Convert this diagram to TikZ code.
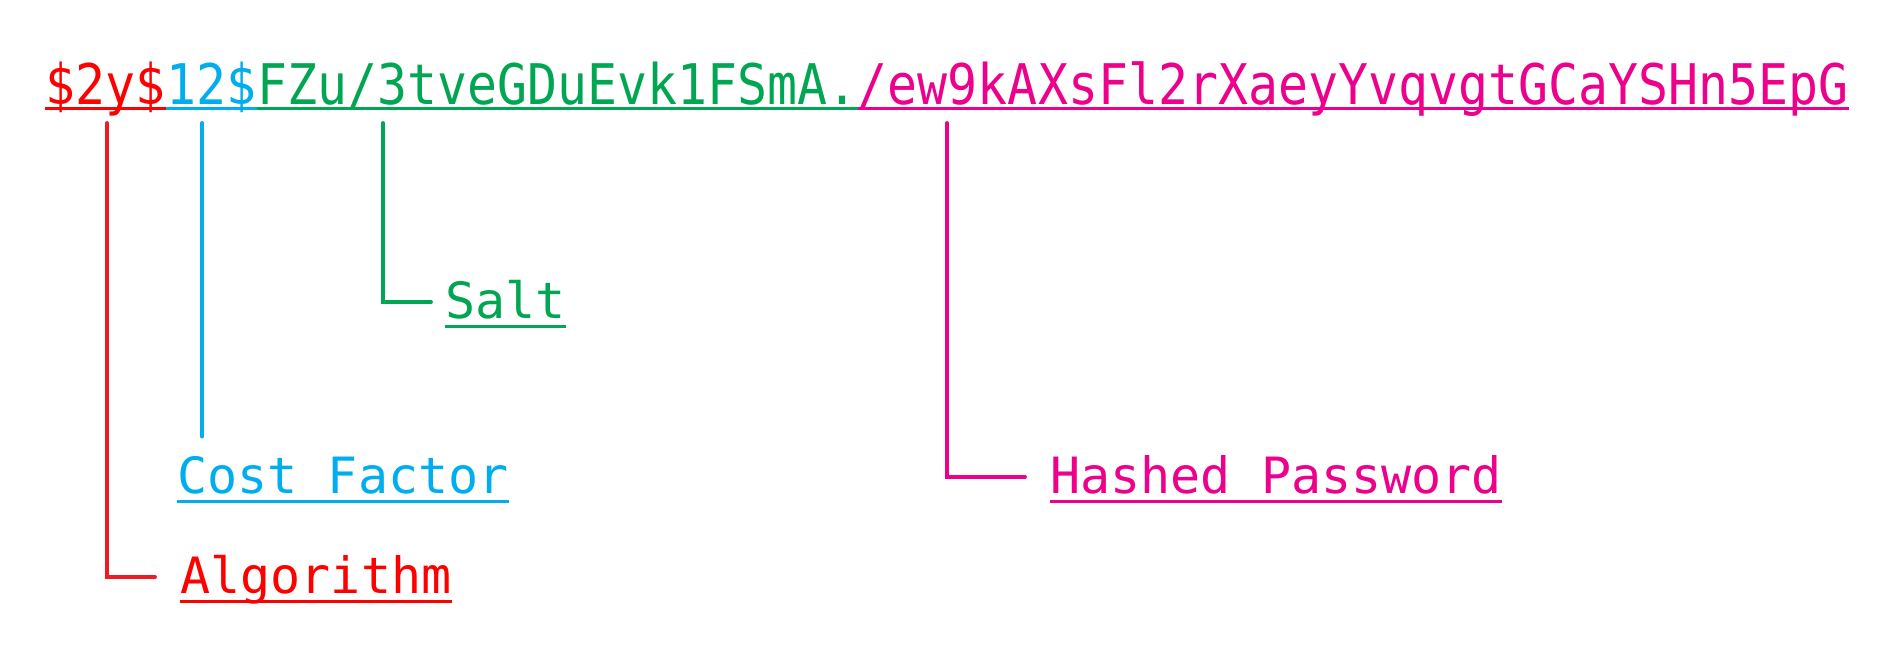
\documentclass[tikz,border=0pt]{standalone}
\usepackage{fontspec}
\usepackage{xcolor}
\usepackage{tikz}
\usetikzlibrary{positioning}
\newfontfamily\hashfont{DejaVu Sans Mono}[FakeStretch=0.89]
\newfontfamily\labelfont{DejaVu Sans Mono}
\definecolor{algred}{HTML}{FF0000}
\definecolor{algline}{HTML}{ED1C24}
\definecolor{costblue}{HTML}{00AEEF}
\definecolor{saltgreen}{HTML}{00A651}
\definecolor{hashpink}{HTML}{EC008C}

\begin{document}
\begin{tikzpicture}[
    x=0.5pt, y=-0.5pt,
    part/.style={inner sep=0pt, anchor=base west, text depth=1.75pt, font=\hashfont\fontsize{28pt}{28pt}\selectfont},
    tag/.style={inner sep=0pt, anchor=base west, text height=20pt, text depth=4pt, font=\labelfont\fontsize{25pt}{25pt}\selectfont},
    uline/.style={line width=1.4pt},
    lead/.style={line width=1.9pt, line cap=round}
]
    \useasboundingbox (0,0) rectangle (1884,654);
    % the hash string
    \node[part, text=algred] (alg) at (45,104.5) {\$2y\$};
    \node[part, text=costblue] (cost) at (alg.base east) {12\$};
    \node[part, text=saltgreen] (salt) at (cost.base east) {FZu/3tveGDuEvk1FSmA.};
    \node[part, text=hashpink] (hash) at (salt.base east) {/ew9kAXsFl2rXaeyYvqvgtGCaYSHn5EpG};
    \draw[uline, algred] (alg.south west) -- (alg.south east);
    \draw[uline, costblue] (cost.south west) -- (cost.south east);
    \draw[uline, saltgreen] (salt.south west) -- (salt.south east);
    \draw[uline, hashpink] (hash.south west) -- (hash.south east);
    % labels
    \node[tag, text=saltgreen] (saltlab) at (445,318) {Salt};
    \node[tag, text=costblue] (costlab) at (177,493) {Cost Factor};
    \node[tag, text=hashpink] (hashlab) at (1050,493) {Hashed Password};
    \node[tag, text=algred] (alglab) at (180,593) {Algorithm};
    \draw[uline, saltgreen] (saltlab.south west) -- (saltlab.south east);
    \draw[uline, costblue] (costlab.south west) -- (costlab.south east);
    \draw[uline, hashpink] (hashlab.south west) -- (hashlab.south east);
    \draw[uline, algred] (alglab.south west) -- (alglab.south east);
    % leaders
    \coordinate (algtop) at (107,123);
    \coordinate (costtop) at (202,123);
    \coordinate (salttop) at (383,123);
    \coordinate (hashtop) at (947,123);
    \draw[lead, algline] (algtop) |- ([xshift=-12.5pt]alglab.west);
    \draw[lead, costblue] (costtop) -- ([yshift=8pt]costtop |- costlab.north);
    \draw[lead, saltgreen] (salttop) |- ([xshift=-7pt]saltlab.west);
    \draw[lead, hashpink] (hashtop) |- ([xshift=-12.5pt]hashlab.west);
\end{tikzpicture}
\end{document}
